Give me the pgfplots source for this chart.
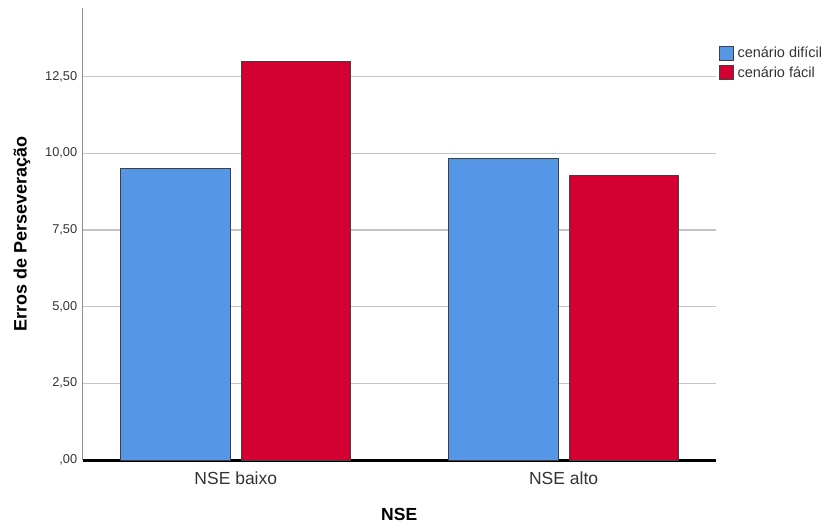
\documentclass[border=0pt]{standalone}
\usepackage{pgfplots}
\pgfplotsset{compat=1.18}
\usepackage{fontspec}
\setmainfont{Liberation Sans}

\definecolor{spssblue}{HTML}{5596E6}
\definecolor{spssred}{HTML}{D50032}
\definecolor{gridgray}{HTML}{C4C4C4}
\definecolor{txt}{HTML}{333333}

\begin{document}
\begin{tikzpicture}
  \path[use as bounding box] (-82.7pt,-64pt) rectangle (738.3pt,460pt);
  \begin{axis}[
    at={(0pt,0pt)}, anchor=south west,
    scale only axis,
    width=633pt, height=452pt,
    ybar,
    bar width=0.334,
    xmin=-0.467, xmax=1.464,
    ymin=0, ymax=14.74,
    xtick={0,1},
    xticklabels={NSE baixo, NSE alto},
    ytick={0,2.5,5,7.5,10,12.5},
    yticklabels={{,00},{2,50},{5,00},{7,50},{10,00},{12,50}},
    major tick length=0pt,
    axis lines=left,
    x axis line style={-, black, line width=3pt},
    y axis line style={-, black!45, line width=1.5pt},
    ymajorgrids,
    grid style={gridgray, line width=1.6pt},
    xticklabel style={anchor=center, yshift=-18pt, text=txt,
      font=\fontsize{17.5}{21}\selectfont},
    yticklabel style={anchor=east, xshift=-2pt, text=txt,
      font=\fontsize{12.8}{15}\selectfont},
    xlabel={\textbf{NSE}},
    xlabel style={at={(axis description cs:0.5,-0.1195)}, anchor=center,
      font=\fontsize{17.5}{21}\selectfont},
    ylabel={\textbf{Erros de Perseveração}},
    ylabel style={at={(axis description cs:-0.0959,0.5)}, anchor=center,
      font=\fontsize{18}{21}\selectfont},
    legend style={at={(axis description cs:1,1)}, anchor=north west,
      xshift=2.6pt, yshift=-37pt, draw=none, fill=none, inner sep=0pt,
      row sep=3pt, text=txt, font=\fontsize{14.5}{17}\selectfont,
      cells={anchor=west}},
    legend image code/.code={\draw[#1, line width=1pt] (0pt,-7pt) rectangle (14pt,7pt);},
  ]
    \addplot[bar shift=-0.184, fill=spssblue, draw=black!75, line width=1pt]
      coordinates {(0,9.51) (1,9.84)};
    \addplot[bar shift=0.184, fill=spssred, draw=black!75, line width=1pt]
      coordinates {(0,12.99) (1,9.27)};
    \legend{\hspace{2pt}cenário difícil, \hspace{2pt}cenário fácil}
  \end{axis}
\end{tikzpicture}
\end{document}
